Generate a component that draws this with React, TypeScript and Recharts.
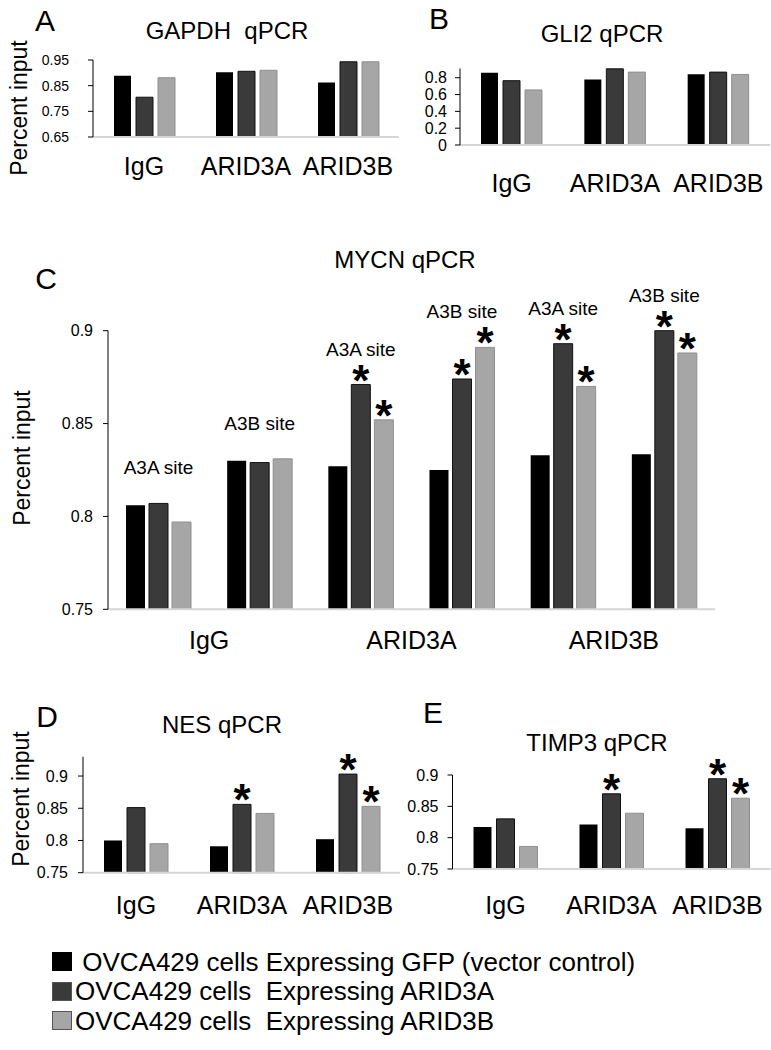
import React from "react";
import { Bar, BarChart, LabelList, XAxis, YAxis } from "recharts";

const FONT = '"Liberation Sans", Arial, Helvetica, sans-serif';

const COLOR_GFP = "#000000";
const COLOR_A3A = "#3a3a3a";
const COLOR_A3B = "#a6a6a6";

const ANTIBODIES = ["IgG", "ARID3A", "ARID3B"];

// A — GAPDH qPCR
const GAPDH_GFP = [0.889, 0.902, 0.862];
const GAPDH_A3A = [0.805, 0.906, 0.943];
const GAPDH_A3B = [0.881, 0.91, 0.943];
const GAPDH_TICKS = [0.65, 0.75, 0.85, 0.95];

// B — GLI2 qPCR
const GLI2_GFP = [0.859, 0.78, 0.843];
const GLI2_A3A = [0.765, 0.906, 0.867];
const GLI2_A3B = [0.655, 0.867, 0.839];
const GLI2_TICKS = [0, 0.2, 0.4, 0.6, 0.8];

// C — MYCN qPCR, two sites for each antibody
const MYCN_ANTIBODIES = ["IgG", "IgG", "ARID3A", "ARID3A", "ARID3B", "ARID3B"];
const MYCN_SITES = ["A3A site", "A3B site", "A3A site", "A3B site", "A3A site", "A3B site"];
const MYCN_GFP = [0.806, 0.83, 0.827, 0.825, 0.833, 0.8335];
const MYCN_A3A = [0.807, 0.829, 0.871, 0.874, 0.893, 0.9];
const MYCN_A3B = [0.797, 0.831, 0.852, 0.891, 0.87, 0.888];
const MYCN_STAR_A3A = [false, false, true, true, true, true];
const MYCN_STAR_A3B = [false, false, true, true, true, true];
const MYCN_TICKS = [0.75, 0.8, 0.85, 0.9];

// D — NES qPCR
const NES_GFP = [0.8, 0.791, 0.802];
const NES_A3A = [0.851, 0.856, 0.903];
const NES_A3B = [0.795, 0.842, 0.853];
const NES_STAR_A3A = [false, true, true];
const NES_STAR_A3B = [false, false, true];
const NES_TICKS = [0.75, 0.8, 0.85, 0.9];

// E — TIMP3 qPCR
const TIMP3_GFP = [0.817, 0.821, 0.815];
const TIMP3_A3A = [0.83, 0.87, 0.894];
const TIMP3_A3B = [0.786, 0.839, 0.863];
const TIMP3_STAR_A3A = [false, true, true];
const TIMP3_STAR_A3B = [false, false, true];
const TIMP3_TICKS = [0.75, 0.8, 0.85, 0.9];

const LEGEND_LABELS = [
  " OVCA429 cells Expressing GFP (vector control)",
  "OVCA429 cells  Expressing ARID3A",
  "OVCA429 cells  Expressing ARID3B",
];
const LEGEND_COLORS = [COLOR_GFP, COLOR_A3A, COLOR_A3B];

type Row = {
  key: string;
  name: string;
  gfp: number;
  a3a: number;
  a3b: number;
  starA3A: string;
  starA3B: string;
  site: string;
};

function makeRows(
  names: string[],
  gfp: number[],
  a3a: number[],
  a3b: number[],
  starA?: boolean[],
  starB?: boolean[],
  sites?: string[]
): Row[] {
  return names.map((name, i) => ({
    key: `${name}-${i}`,
    name,
    gfp: gfp[i],
    a3a: a3a[i],
    a3b: a3b[i],
    starA3A: starA?.[i] ? "*" : "",
    starA3B: starB?.[i] ? "*" : "",
    site: sites?.[i] ?? "",
  }));
}

type PanelProps = {
  rows: Row[];
  box: [number, number, number, number]; // left, top, width, height of the svg on the page
  plot: [number, number, number, number]; // x0, y0, x1, y1 of the plot area on the page
  domain: [number, number];
  ticks: number[];
  tickFont: number;
  tickGap: number;
  barSize: number;
  barGap: number;
  catDy: number;
  pairLabels?: boolean;
  sites?: boolean;
};

const renderStar = (p: any) => {
  if (!p.value) return <g />;
  return (
    <text
      x={p.x + p.width / 2}
      y={p.y + 11}
      textAnchor="middle"
      fontSize={44}
      fontWeight="bold"
      fontFamily={FONT}
      fill="#000"
    >
      *
    </text>
  );
};

function QpcrPanel(props: PanelProps) {
  const { rows, box, plot, domain, ticks } = props;
  const [left, top, width, height] = box;
  const [x0, y0, x1, y1] = plot;
  const yAxisWidth = x0 - left;
  const xAxisHeight = top + height - y1;
  const band = (x1 - x0) / rows.length;
  const pxPerUnit = (y1 - y0) / (domain[1] - domain[0]);

  const CatTick = (t: any) => {
    const idx = t.payload?.index ?? 0;
    if (props.pairLabels && idx % 2 === 1) return <g />;
    const cx = props.pairLabels ? t.x + band / 2 : t.x;
    return (
      <text
        x={cx}
        y={t.y + props.catDy}
        textAnchor="middle"
        dominantBaseline="central"
        fontSize={25}
        fontFamily={FONT}
        fill="#000"
      >
        {rows[idx]?.name}
      </text>
    );
  };

  // site label sits a fixed distance above the tallest bar of its group
  const renderSite = (p: any) => {
    const row = rows[p.index];
    if (!row || !row.site) return <g />;
    const peak = y1 - top - (Math.max(row.gfp, row.a3a, row.a3b) - domain[0]) * pxPerUnit;
    return (
      <text
        x={p.x + p.width / 2}
        y={peak - 29}
        textAnchor="middle"
        fontSize={19}
        fontFamily={FONT}
        fill="#000"
      >
        {row.site}
      </text>
    );
  };

  return (
    <div style={{ position: "absolute", left, top }}>
      <BarChart
        width={width}
        height={height}
        data={rows}
        barSize={props.barSize}
        barGap={props.barGap}
        margin={{ top: y0 - top, right: left + width - x1, bottom: 0, left: 0 }}
      >
        <XAxis
          dataKey="key"
          height={xAxisHeight}
          tickSize={0}
          tickMargin={0}
          axisLine={{ stroke: "#d6d6d6", strokeWidth: 2 }}
          tickLine={false}
          interval={0}
          tick={<CatTick />}
        />
        <YAxis
          type="number"
          width={yAxisWidth}
          domain={domain}
          ticks={ticks}
          interval={0}
          tickSize={5}
          tickMargin={props.tickGap}
          axisLine={{ stroke: "#000", strokeWidth: 1 }}
          tickLine={{ stroke: "#000", strokeWidth: 1 }}
          tick={{ fontSize: props.tickFont, fill: "#000", fontFamily: FONT }}
          tickFormatter={(v: number) => String(v)}
        />
        <Bar dataKey="gfp" fill={COLOR_GFP} isAnimationActive={false} />
        <Bar
          dataKey="a3a"
          fill={COLOR_A3A}
          stroke="#111"
          strokeWidth={1}
          isAnimationActive={false}
        >
          <LabelList dataKey="starA3A" content={renderStar} />
          {props.sites ? <LabelList dataKey="site" content={renderSite} /> : null}
        </Bar>
        <Bar
          dataKey="a3b"
          fill={COLOR_A3B}
          stroke="#8f8f8f"
          strokeWidth={1}
          isAnimationActive={false}
        >
          <LabelList dataKey="starA3B" content={renderStar} />
        </Bar>
      </BarChart>
    </div>
  );
}

function Txt({
  x,
  y,
  size,
  children,
  rotate,
}: {
  x: number;
  y: number;
  size: number;
  children: React.ReactNode;
  rotate?: boolean;
}) {
  return (
    <div
      style={{
        position: "absolute",
        left: x,
        top: y,
        fontSize: size,
        lineHeight: 1.15,
        whiteSpace: "pre",
        transform: `translate(-50%, -50%)${rotate ? " rotate(-90deg)" : ""}`,
      }}
    >
      {children}
    </div>
  );
}

export default function App() {
  const gapdh = makeRows(ANTIBODIES, GAPDH_GFP, GAPDH_A3A, GAPDH_A3B);
  const gli2 = makeRows(ANTIBODIES, GLI2_GFP, GLI2_A3A, GLI2_A3B);
  const mycn = makeRows(
    MYCN_ANTIBODIES,
    MYCN_GFP,
    MYCN_A3A,
    MYCN_A3B,
    MYCN_STAR_A3A,
    MYCN_STAR_A3B,
    MYCN_SITES
  );
  const nes = makeRows(ANTIBODIES, NES_GFP, NES_A3A, NES_A3B, NES_STAR_A3A, NES_STAR_A3B);
  const timp3 = makeRows(
    ANTIBODIES,
    TIMP3_GFP,
    TIMP3_A3A,
    TIMP3_A3B,
    TIMP3_STAR_A3A,
    TIMP3_STAR_A3B
  );

  return (
    <div
      style={{
        position: "relative",
        width: 771,
        height: 1050,
        background: "#fff",
        fontFamily: FONT,
        color: "#000",
        overflow: "hidden",
      }}
    >
      <style>{"body{margin:0}"}</style>

      <QpcrPanel
        rows={gapdh}
        box={[0, 0, 410, 200]}
        plot={[93, 60, 399, 137]}
        domain={[0.65, 0.95]}
        ticks={GAPDH_TICKS}
        tickFont={14}
        tickGap={19}
        barSize={17}
        barGap={5}
        catDy={29}
      />
      <QpcrPanel
        rows={gli2}
        box={[400, 0, 371, 200]}
        plot={[460, 68.5, 770, 145]}
        domain={[0, 0.91]}
        ticks={GLI2_TICKS}
        tickFont={16}
        tickGap={8}
        barSize={17}
        barGap={5}
        catDy={38}
      />
      <QpcrPanel
        rows={mycn}
        box={[0, 230, 771, 430]}
        plot={[108, 330.7, 715, 609.3]}
        domain={[0.75, 0.9]}
        ticks={MYCN_TICKS}
        tickFont={16}
        tickGap={10}
        barSize={19}
        barGap={4}
        catDy={31}
        pairLabels
        sites
      />
      <QpcrPanel
        rows={nes}
        box={[0, 740, 400, 190]}
        plot={[83, 756.7, 401, 872.7]}
        domain={[0.75, 0.93]}
        ticks={NES_TICKS}
        tickFont={16}
        tickGap={10}
        barSize={18}
        barGap={5}
        catDy={32}
      />
      <QpcrPanel
        rows={timp3}
        box={[400, 740, 371, 190]}
        plot={[452.5, 775, 770.5, 869]}
        domain={[0.75, 0.9]}
        ticks={TIMP3_TICKS}
        tickFont={16}
        tickGap={9}
        barSize={18}
        barGap={5}
        catDy={36}
      />

      {/* panel letters and titles */}
      <Txt x={45} y={21} size={30}>A</Txt>
      <Txt x={439} y={19} size={30}>B</Txt>
      <Txt x={46} y={279} size={30}>C</Txt>
      <Txt x={47} y={717} size={30}>D</Txt>
      <Txt x={433} y={713} size={30}>E</Txt>

      <Txt x={227} y={31} size={24}>GAPDH  qPCR</Txt>
      <Txt x={602} y={34} size={24}>GLI2 qPCR</Txt>
      <Txt x={405} y={260} size={24}>MYCN qPCR</Txt>
      <Txt x={222} y={725} size={24}>NES qPCR</Txt>
      <Txt x={597} y={743} size={24}>TIMP3 qPCR</Txt>

      <Txt x={19} y={108} size={23} rotate>Percent input</Txt>
      <Txt x={22} y={458} size={23} rotate>Percent input</Txt>
      <Txt x={21} y={799} size={23} rotate>Percent input</Txt>

      {/* legend */}
      {LEGEND_LABELS.map((label, i) => (
        <div
          key={label}
          style={{
            position: "absolute",
            left: 52,
            top: 952 + i * 29.5,
            display: "flex",
            alignItems: "center",
            height: 19,
            fontSize: 26,
            lineHeight: 1,
            whiteSpace: "pre",
          }}
        >
          <span
            style={{
              display: "inline-block",
              width: 20,
              height: 19,
              background: LEGEND_COLORS[i],
              border: i === 0 ? "none" : "1px solid #555",
              boxSizing: "border-box",
              marginRight: 3,
            }}
          />
          <span>{label}</span>
        </div>
      ))}
    </div>
  );
}
